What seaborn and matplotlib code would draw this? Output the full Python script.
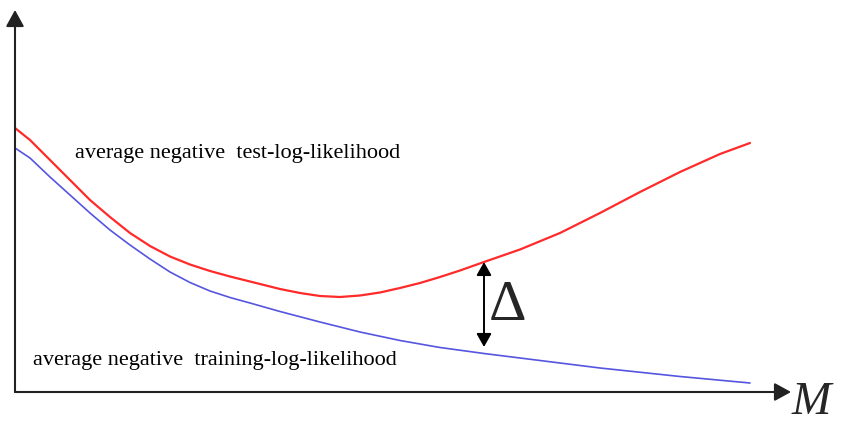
import pandas as pd
import seaborn as sns
import matplotlib.pyplot as plt

# model complexity M (px from origin) and loss height above the M axis
test_m = [0, 15, 35, 55, 75, 95, 115, 135, 155, 175, 195, 215, 235, 245, 265,
          285, 305, 325, 345, 365, 385, 405, 425, 445, 469, 505, 545, 585, 625,
          665, 705, 735]
test_nll = [264, 252, 232, 212, 192, 175, 159, 146, 135.5, 127.5, 121, 115.5, 110.5,
            108, 103, 99, 96, 95, 96.5, 99.5, 104, 109, 115, 121.5, 130, 142.5,
            159, 179, 200, 220, 238, 249]

train_m = [0, 15, 35, 55, 75, 95, 115, 135, 155, 175, 195, 215, 235, 265, 305,
           345, 385, 425, 469, 525, 585, 665, 735]
train_nll = [244, 234, 215, 197, 179, 162, 147, 133, 120, 109.5, 101, 94.5, 89,
             80.5, 70, 60, 51.5, 44.5, 38.5, 31.5, 24, 15.5, 9]

gap_m = 469
gap_top = 130
gap_bottom = 45

test_label = 'average negative  test-log-likelihood'
train_label = 'average negative  training-log-likelihood'


def make_plot():
    sns.set_style('white')
    plt.rcParams['font.family'] = ['Liberation Serif', 'DejaVu Serif']

    df = pd.concat([
        pd.DataFrame({'M': test_m, 'nll': test_nll, 'curve': 'test'}),
        pd.DataFrame({'M': train_m, 'nll': train_nll, 'curve': 'train'}),
    ])

    fig = plt.figure(figsize=(8.47, 4.24), dpi=100)
    ax = fig.add_axes([0, 0, 1, 1])
    sns.lineplot(data=df, x='M', y='nll', hue='curve', sort=False,
                 palette={'test': '#ff2a2a', 'train': '#5555e0'},
                 legend=False, ax=ax)
    for line, lw in zip(ax.get_lines(), [1.6, 1.2]):
        line.set_linewidth(lw)
        line.set_solid_joinstyle('round')

    ax.set_xlim(-15, 832)
    ax.set_ylim(-32, 392)
    ax.set_axis_off()

    # axes arrows
    arrow = dict(arrowstyle='-|>,head_length=1.0,head_width=0.55',
                 color='#222222', lw=1.5, shrinkA=0, shrinkB=0)
    ax.annotate('', xy=(0, 382), xytext=(0, 0), arrowprops=arrow)
    ax.annotate('', xy=(776, 0), xytext=(0, 0), arrowprops=arrow)

    # gap arrow
    gap = dict(arrowstyle='<|-|>,head_length=0.8,head_width=0.45',
               color='black', lw=1.4, shrinkA=0, shrinkB=0)
    ax.annotate('', xy=(gap_m, gap_top), xytext=(gap_m, gap_bottom), arrowprops=gap)
    ax.text(gap_m + 5, (gap_top + gap_bottom) / 2 - 1, '\u0394', fontsize=42,
            va='center', ha='left')

    ax.text(60, 234, test_label, fontsize=16, va='baseline', ha='left', color='black')
    ax.text(18, 27, train_label, fontsize=16, va='baseline', ha='left', color='black')
    ax.text(777, -22, 'M', fontsize=34, style='italic', va='baseline', ha='left')

    return fig


if __name__ == '__main__':
    fig = make_plot()
    fig.savefig('out.png', dpi=100, facecolor='white')
